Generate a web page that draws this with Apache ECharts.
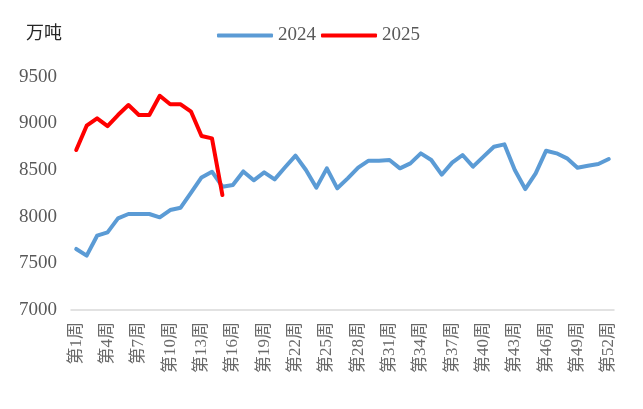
<!DOCTYPE html>
<html>
<head>
<meta charset="utf-8">
<script src="https://cdn.jsdelivr.net/npm/echarts@6/dist/echarts.min.js"></script>
<style>html,body{margin:0;padding:0;background:#fff;}#c{width:643px;height:409px;}</style>
</head>
<body>
<div id="c"></div>
<script>
const weeks = Array.from({length: 52}, (_, i) => '第' + (i + 1) + '周');
const seriesNames = ['2024', '2025'];
const values2024 = [7654, 7582, 7796, 7832, 7982, 8029, 8029, 8029, 7993, 8071, 8096, 8257, 8421, 8482, 8321, 8339,
  8485, 8390, 8475, 8400, 8529, 8654, 8500, 8311, 8518, 8304, 8411, 8525, 8600, 8600, 8607, 8518,
  8571, 8679, 8607, 8450, 8579, 8661, 8536, 8643, 8750, 8775, 8500, 8296, 8464, 8707, 8679, 8625,
  8525, 8546, 8564, 8618];
const values2025 = [8714, 8975, 9054, 8971, 9089, 9196, 9089, 9089, 9296, 9204, 9204, 9125, 8864, 8839, 8232];
const yTicks = [7000, 7500, 8000, 8500, 9000, 9500];
const unitLabel = '万吨';

const serif = '"Liberation Serif", "Times New Roman", "Noto Sans CJK SC", serif';
const chart = echarts.init(document.getElementById('c'), null, {renderer: 'canvas'});
chart.setOption({
  animation: false,
  backgroundColor: '#fff',
  title: {
    text: unitLabel, left: 21, top: 20,
    textStyle: {fontFamily: serif, fontSize: 18, fontWeight: 'normal', color: '#262626'}
  },
  legend: {
    data: seriesNames, top: 21, left: 212,
    icon: 'roundRect',
    itemWidth: 56, itemHeight: 4, itemGap: 5,
    textStyle: {fontFamily: serif, fontSize: 19, color: '#595959'}
  },
  grid: {left: 71, right: 29, top: 76.7, bottom: 99, containLabel: false},
  xAxis: {
    type: 'category', data: weeks, boundaryGap: true,
    axisLine: {lineStyle: {color: '#D9D9D9', width: 1.5}},
    axisTick: {show: false},
    axisLabel: {interval: 2, rotate: 90, margin: 12, fontFamily: serif, fontSize: 17, color: '#6a6a6a'}
  },
  yAxis: {
    type: 'value', min: yTicks[0], max: yTicks[yTicks.length - 1], interval: 500,
    axisLine: {show: false}, axisTick: {show: false},
    splitLine: {show: false},
    axisLabel: {margin: 14, fontFamily: serif, fontSize: 19, color: '#595959', formatter: v => String(v)}
  },
  series: [
    {name: seriesNames[0], type: 'line', data: values2024, symbol: 'none',
     lineStyle: {color: '#5B9BD5', width: 4, cap: 'round', join: 'round'}, itemStyle: {color: '#5B9BD5'}},
    {name: seriesNames[1], type: 'line', data: values2025, symbol: 'none',
     lineStyle: {color: '#FF0000', width: 4, cap: 'round', join: 'round'}, itemStyle: {color: '#FF0000'}}
  ]
});
</script>
</body>
</html>
